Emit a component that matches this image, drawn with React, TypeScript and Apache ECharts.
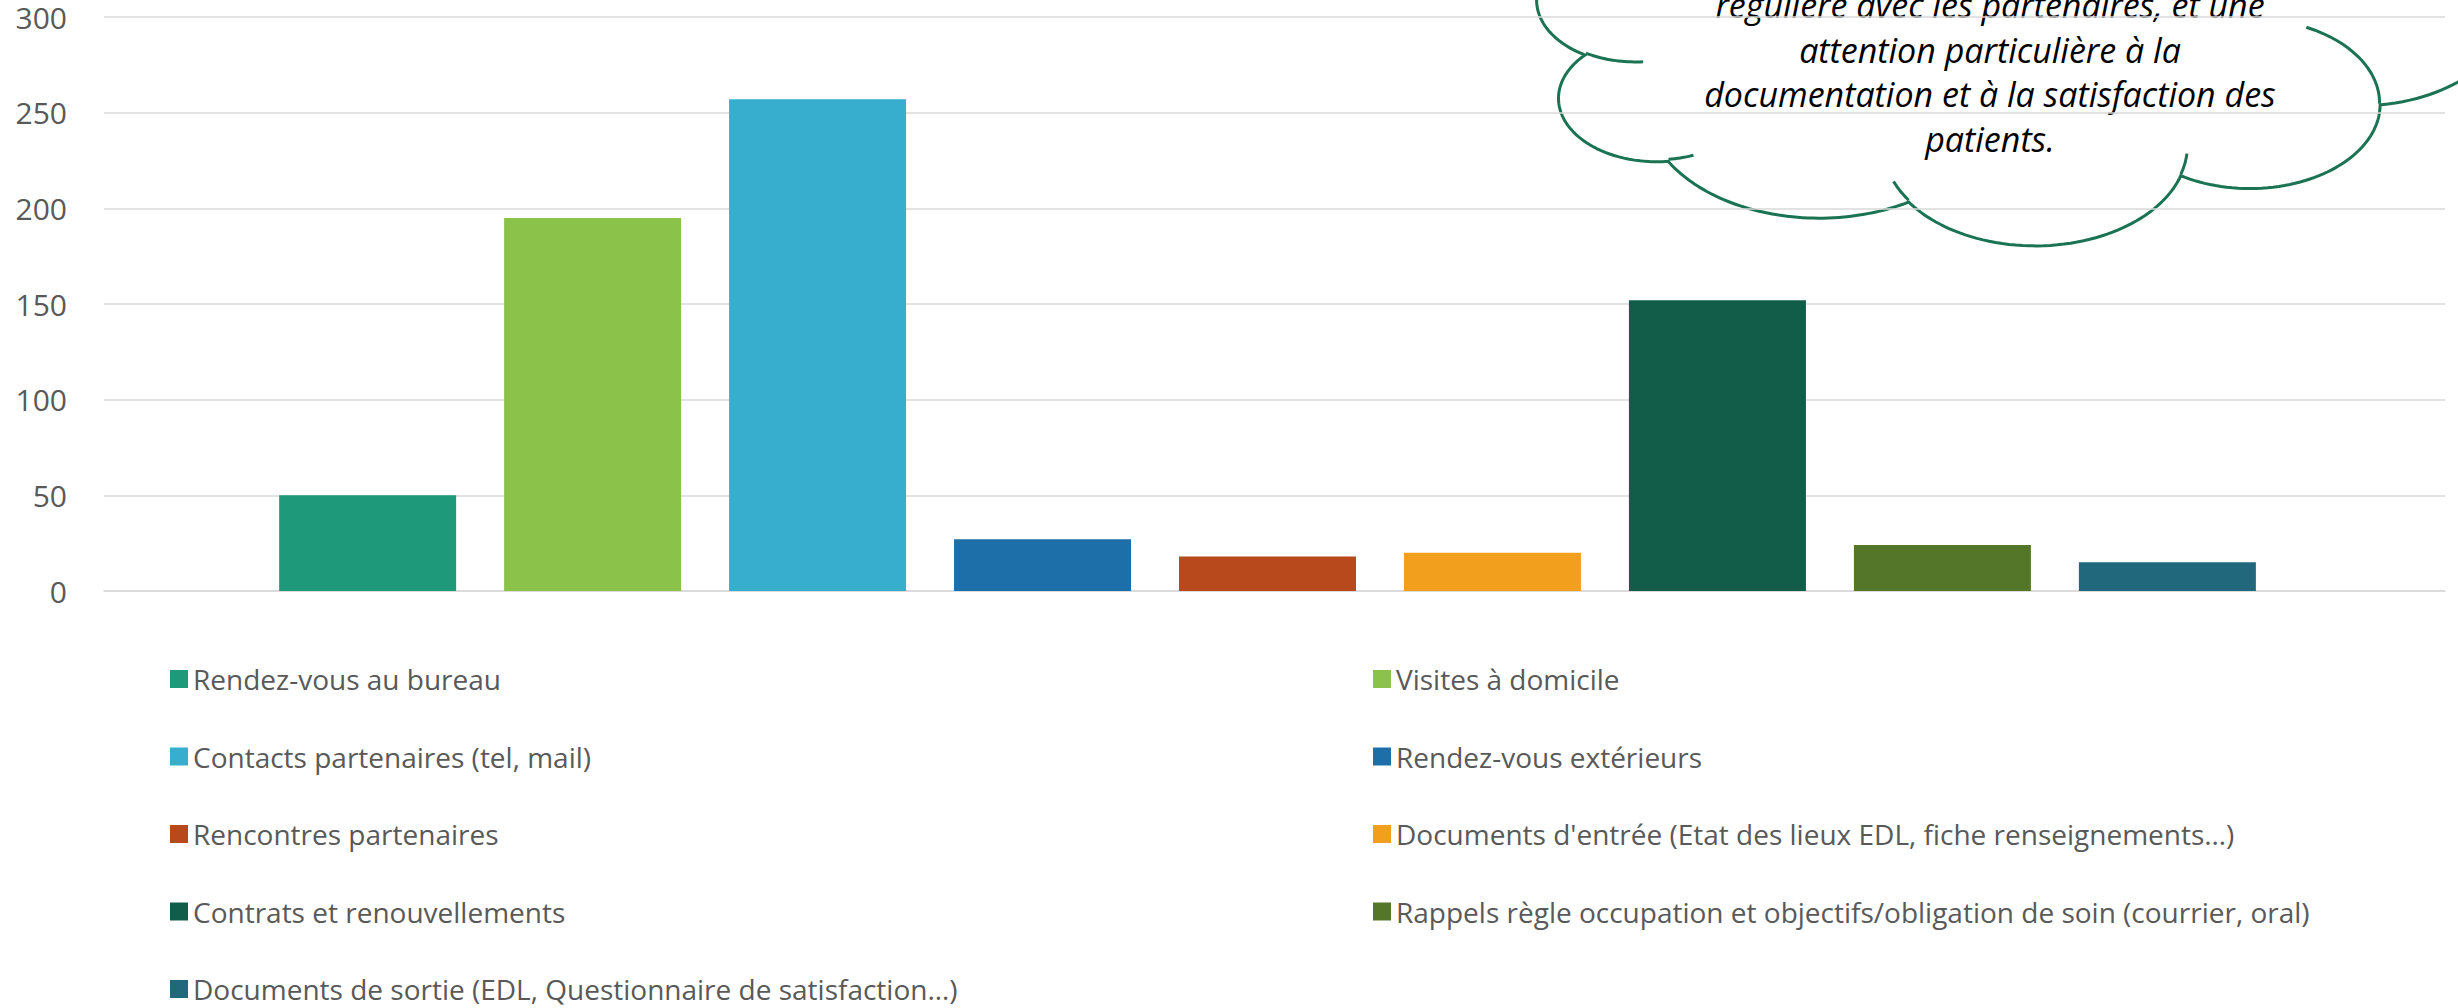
import React, { useEffect, useRef } from "react";
import * as echarts from "echarts";

// ---- Data ----
const categories = [""];
const seriesNames = [
  "Rendez-vous au bureau",
  "Visites à domicile",
  "Contacts partenaires (tel, mail)",
  "Rendez-vous extérieurs",
  "Rencontres partenaires",
  "Documents d'entrée (Etat des lieux EDL, fiche renseignements…)",
  "Contrats et renouvellements",
  "Rappels règle occupation et objectifs/obligation de soin (courrier, oral)",
  "Documents de sortie (EDL, Questionnaire de satisfaction…)",
];
const seriesValues = [50, 195, 257, 27, 18, 20, 152, 24, 15];
const seriesColors = [
  "#1E9A7A",
  "#8BC24A",
  "#37AECD",
  "#1D6FA9",
  "#B8491D",
  "#F29F1E",
  "#125C4A",
  "#547628",
  "#21687C",
];
const yMin = 0;
const yMax = 300;
const yInterval = 50;
const cloudLines = [
  "régulière avec les partenaires, et une",
  "attention particulière à la",
  "documentation et à la satisfaction des",
  "patients.",
];

// ---- Cloud shape (OOXML preset "cloud", 43200 units) ----
const CLOUD_START = [3900, 14370];
const CLOUD_ARCS = [
  [6753, 9190, -11429249, 7426832],
  [5333, 7267, -8646143, 5396714],
  [4365, 5945, -8748475, 5983381],
  [4857, 6595, -7859164, 7034504],
  [5333, 7273, -4722533, 6541615],
  [6775, 9220, -2776035, 7816140],
  [5785, 7867, 37501, 6842000],
  [6752, 9215, 1347096, 6910353],
  [7720, 10543, 3974558, 4542661],
  [4360, 5918, -16496525, 8804134],
  [4345, 5945, -14809710, 9151131],
];
const CLOUD_STUBS = [
  [4693, 26177, 4345, 5945, 5204520, 1585770],
  [6928, 34899, 4360, 5918, 4416628, 686848],
  [16478, 39090, 6752, 9215, 8257449, 844866],
  [28827, 34751, 6752, 9215, 387196, 959901],
  [34129, 22954, 5785, 7867, -4217541, 4255042],
  [41798, 15354, 5333, 7273, 1819082, 1665090],
  [38324, 5426, 4857, 6595, -824660, 891534],
  [29078, 3952, 4857, 6595, -8950887, 1091722],
  [22141, 4720, 4365, 5945, -9809656, 1061181],
  [14000, 5192, 6753, 9190, -4002417, 739161],
  [4127, 15789, 6753, 9190, 9459261, 711490],
];

function ellPt(wR: number, hR: number, a: number) {
  const t = Math.atan2(wR * Math.sin(a), hR * Math.cos(a));
  return [wR * Math.cos(t), hR * Math.sin(t)];
}
function arcPts(cur: number[], wR: number, hR: number, st: number, sw: number, n: number) {
  const s = (st / 60000) * (Math.PI / 180);
  const w = (sw / 60000) * (Math.PI / 180);
  const p0 = ellPt(wR, hR, s);
  const cx = cur[0] - p0[0];
  const cy = cur[1] - p0[1];
  const out: number[][] = [];
  for (let i = 1; i <= n; i++) {
    const p = ellPt(wR, hR, s + (w * i) / n);
    out.push([cx + p[0], cy + p[1]]);
  }
  return out;
}

export default function App() {
  const ref = useRef<HTMLDivElement>(null);
  useEffect(() => {
    document.body.style.margin = "0";
    if (!ref.current) return;
    const chart = echarts.init(ref.current, null, { renderer: "svg" });

    // cloud placement
    const X0 = 1537.4, Y0 = -218.8, W = 973.3, H = 463.0;
    const map = (p: number[]) => [X0 + (p[0] * W) / 43200, Y0 + (p[1] * H) / 43200];
    let cur = CLOUD_START.slice();
    const body: number[][] = [cur.slice()];
    CLOUD_ARCS.forEach(([wR, hR, st, sw]) => {
      const pts = arcPts(cur, wR, hR, st, sw, 60);
      pts.forEach((p) => body.push(p));
      cur = pts[pts.length - 1];
    });
    const cloudColor = "#1A7352";
    const stubs = CLOUD_STUBS.map(([x, y, wR, hR, st, sw]) => {
      const pts = [[x, y], ...arcPts([x, y], wR, hR, st, sw, 20)];
      return {
        type: "polyline",
        shape: { points: pts.map(map) },
        style: { stroke: cloudColor, lineWidth: 3, fill: null },
        silent: true,
      };
    });

    const lineH = 44.5;
    const graphic = [
      {
        type: "group",
        z: 100,
        children: [
          {
            type: "polygon",
            shape: { points: body.map(map) },
            style: { fill: "#ffffff", stroke: cloudColor, lineWidth: 3 },
            silent: true,
          },
          ...stubs,
          {
            type: "text",
            x: 1990,
            y: 5 - lineH / 2,
            style: {
              text: cloudLines.join("\n"),
              fill: "#000000",
              fontFamily: "Open Sans",
              fontStyle: "italic",
              fontSize: 34,
              lineHeight: lineH,
              textAlign: "center",
              textVerticalAlign: "top",
            },
            silent: true,
          },
        ],
      },
    ];

    const legendCommon = {
      orient: "vertical",
      itemWidth: 18,
      itemHeight: 18,
      itemGap: 49.5,
      padding: 0,
      icon: "rect",
      selectedMode: false,
      textStyle: {
        color: "#595959",
        fontSize: 28,
        lineHeight: 28,
        fontFamily: "Open Sans",
      },
      top: 665,
      height: 342,
    };

    chart.setOption({
      animation: false,
      backgroundColor: "#ffffff",
      textStyle: { fontFamily: "Open Sans" },
      grid: [
        { left: 104, right: 13, top: 17, bottom: 417, containLabel: false },
        { left: 104, right: 27, top: 17, bottom: 417, containLabel: false },
      ],
      xAxis: [
        {
          type: "category",
          gridIndex: 0,
          data: categories,
          axisLine: { show: true, lineStyle: { color: "#D9D9D9", width: 1.5 } },
          axisTick: { show: false },
          axisLabel: { show: false },
        },
        {
          type: "category",
          gridIndex: 1,
          data: categories,
          axisLine: { show: false },
          axisTick: { show: false },
          axisLabel: { show: false },
        },
      ],
      yAxis: [
        {
          type: "value",
          gridIndex: 0,
          min: yMin,
          max: yMax,
          interval: yInterval,
          axisLine: { show: false },
          axisTick: { show: false },
          axisLabel: { color: "#595959", fontSize: 30, margin: 37, fontFamily: "Open Sans" },
          splitLine: { lineStyle: { color: "#D9D9D9", width: 1.5 } },
        },
        {
          type: "value",
          gridIndex: 1,
          min: yMin,
          max: yMax,
          interval: yInterval,
          axisLine: { show: false },
          axisTick: { show: false },
          axisLabel: { show: false },
          splitLine: { show: false },
        },
      ],
      legend: [
        { ...legendCommon, left: 170, data: seriesNames.filter((_, i) => i % 2 === 0) },
        { ...legendCommon, left: 1373, data: seriesNames.filter((_, i) => i % 2 === 1) },
      ],
      series: seriesNames.map((name, i) => ({
        name,
        type: "bar",
        xAxisIndex: 1,
        yAxisIndex: 1,
        data: [seriesValues[i]],
        barWidth: 177,
        barGap: "27.1%",
        itemStyle: { color: seriesColors[i] },
      })),
      graphic,
    });
    return () => chart.dispose();
  }, []);
  return <div ref={ref} style={{ width: 2458, height: 1008 }} />;
}
